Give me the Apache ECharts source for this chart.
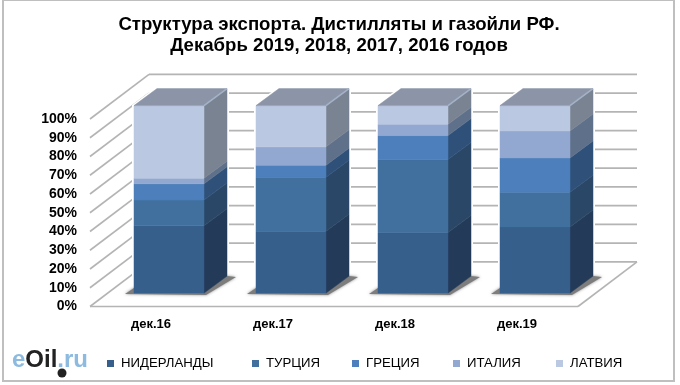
<!DOCTYPE html>
<html><head><meta charset="utf-8">
<style>html,body{margin:0;padding:0;background:#fff}#c{width:680px;height:385px}</style>
<script src="https://cdn.jsdelivr.net/npm/echarts@6/dist/echarts.min.js"></script>
</head><body><div id="c"></div>
<script>
const categories = ['дек.16','дек.17','дек.18','дек.19'];
const yTicks = [0,10,20,30,40,50,60,70,80,90,100];
const niderlandy = [35.9,33.0,32.3,35.3];
const turtsiya   = [13.7,28.8,38.9,18.5];
const gretsiya   = [8.7,6.4,12.8,18.3];
const italiya    = [3.0,9.8,6.0,14.4];
const latviya    = [38.7,22.0,10.0,13.5];

const seriesNames = ['НИДЕРЛАНДЫ','ТУРЦИЯ','ГРЕЦИЯ','ИТАЛИЯ','ЛАТВИЯ'];
const seriesVals = [niderlandy,turtsiya,gretsiya,italiya,latviya];
const frontCols = ['#375f8c','#41709f','#4c7fbb','#93a8d0','#bbc8e1'];
const sideCols  = ['#233a58','#2b4768','#2f5179','#5f708a','#7a8392'];
const legendLefts = [107,252,352,453,556];
const topCol = '#8c95a8';
const gridCol = '#b4b4b4';
const WALL = [59,-44.6], BAR_OFF = [18,-13.4], BAR_D = [23,-17], BAR_RATIO = 70/122;

const chart = echarts.init(document.getElementById('c'),null,{renderer:'canvas'});

function poly(pts,fill){
  return {type:'polygon',shape:{points:pts},style:{fill:fill,stroke:fill,lineWidth:0.5}};
}
function line(a,b,w){
  return {type:'line',shape:{x1:a[0],y1:a[1],x2:b[0],y2:b[1]},style:{stroke:gridCol,lineWidth:w||1.6}};
}
const wallSeries = {
  type:'custom', name:'_wall', silent:true, clip:false, z:1,
  data: yTicks.map(v=>[0,v]),
  encode:{x:0,y:1},
  renderItem(params,api){
    const v = api.value(1), y = api.coord([0,v])[1];
    const cs = params.coordSys, L = cs.x, R = cs.x+cs.width;
    const kids = [
      line([L,y],[L+WALL[0],y+WALL[1]]),
      line([L+WALL[0],y+WALL[1]],[R+WALL[0],y+WALL[1]])
    ];
    if(v===0){
      kids.push(line([L,y],[R,y]));
      kids.push(line([R,y],[R+WALL[0],y+WALL[1]]));
    }
    return {type:'group',children:kids};
  }
};
const barSeries = seriesNames.map((name,si)=>{
  const data = categories.map((c,ci)=>{
    let s=0; for(let k=0;k<si;k++) s+=seriesVals[k][ci];
    return [ci,s,s+seriesVals[si][ci]];
  });
  return {
    type:'custom', name, silent:true, clip:false, z:3+si,
    itemStyle:{color:frontCols[si]},
    data, encode:{x:0,y:[1,2]},
    renderItem(params,api){
      const ci = api.value(0);
      const a = api.coord([ci,api.value(1)]), b = api.coord([ci,api.value(2)]);
      const w = api.size([1,0])[0]*BAR_RATIO;
      const x0 = a[0]+BAR_OFF[0]-w/2, x1 = x0+w;
      const y0 = a[1]+BAR_OFF[1], y1 = b[1]+BAR_OFF[1];
      const dx = BAR_D[0], dy = BAR_D[1];
      const kids = [];
      if(si===0){
        let total=0; seriesVals.forEach(s=>{total+=s[ci];});
        const yT = api.coord([ci,total])[1]+BAR_OFF[1];
        kids.push({type:'polygon',shape:{points:[[x0-1,yT],[x0+dx,yT+dy-1],[x1+dx+1,yT+dy-1],[x1+dx+1,y0+dy],[x1,y0+1],[x0-1,y0+1]]},
          style:{fill:'#fff',stroke:'#fff',lineWidth:2}});
        kids.push({type:'polygon',shape:{points:[[x0-9,y0+1],[x0,y0-5],[x1+dx,y0+dy],[x1+dx+9,y0+dy+1],[x1+2,y0+2]]},
          style:{fill:'#7d7d7d',shadowBlur:3,shadowColor:'rgba(90,90,90,0.7)'}});
      }
      kids.push(poly([[x1,y0],[x1+dx,y0+dy],[x1+dx,y1+dy],[x1,y1]],sideCols[si]));
      kids.push(poly([[x0,y0],[x1,y0],[x1,y1],[x0,y1]],frontCols[si]));
      if(si===seriesNames.length-1){
        kids.push(poly([[x0,y1],[x1,y1],[x1+dx,y1+dy],[x0+dx,y1+dy]],topCol));
        kids.push({type:'polyline',shape:{points:[[x1,y1],[x1+dx,y1+dy]]},style:{stroke:'#a4b2c8',lineWidth:1.5,fill:'none'}});
      }
      return {type:'group',children:kids};
    }
  };
});

chart.setOption({
  animation:false,
  backgroundColor:'#fff',
  title:{
    text:'Структура экспорта. Дистилляты и газойли РФ.\nДекабрь 2019, 2018, 2017, 2016 годов',
    left:334, top:9, textAlign:'center',
    textStyle:{fontFamily:'Liberation Sans',fontSize:18.6,fontWeight:'bold',color:'#000',lineHeight:21}
  },
  grid:{left:90,top:119,width:488,height:187.5,containLabel:false},
  xAxis:{type:'category',data:categories,
    axisLine:{show:false},axisTick:{show:false},splitLine:{show:false},
    axisLabel:{margin:11,color:'#000',fontFamily:'Liberation Sans',fontSize:13,fontWeight:'bold'}},
  yAxis:{type:'value',min:0,max:100,interval:10,
    axisLine:{show:false},axisTick:{show:false},splitLine:{show:false},
    axisLabel:{margin:13,color:'#000',fontFamily:'Liberation Sans',fontSize:14,fontWeight:'bold',formatter:'{value}%'}},
  legend:seriesNames.map((n,i)=>({data:[n],left:legendLefts[i],top:357,padding:0,itemWidth:7,itemHeight:7,itemGap:0,icon:'rect',
    selectedMode:false,
    textStyle:{fontFamily:'Liberation Sans',fontSize:13.2,color:'#000',padding:[0,0,0,2]}})),
  graphic:[
    {type:'rect',silent:true,z:0,shape:{x:3,y:0,width:671,height:381},style:{fill:'none',stroke:'#bfbfbf',lineWidth:2}},
    {type:'text',silent:true,z:10,left:12,top:348,style:{
      text:'{a|e}{b|Oil}{a|.ru}',
      rich:{a:{fill:'#8dbbe0',fontFamily:'Liberation Sans',fontSize:24,fontWeight:'bold'},b:{fill:'#222',fontFamily:'Liberation Sans',fontSize:24,fontWeight:'bold'}}
    }},
    {type:'circle',silent:true,z:10,shape:{cx:62,cy:373,r:4.5},style:{fill:'#222'}}
  ],
  series:[wallSeries].concat(barSeries)
});
</script></body></html>
